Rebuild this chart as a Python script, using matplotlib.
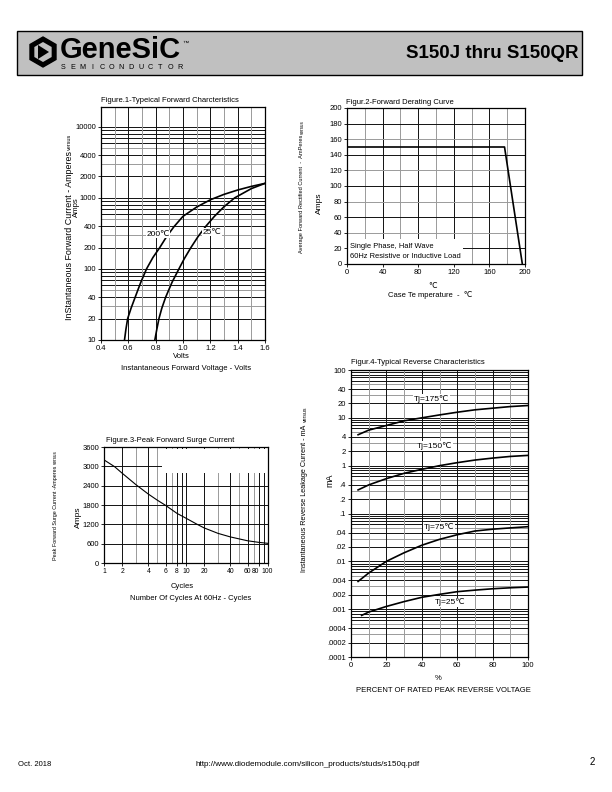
#!/usr/bin/env python3
"""
Rebuild the S150J thru S150QR datasheet page (page 2) with its four curves.
"""

import numpy as np
import matplotlib
matplotlib.use("Agg")
import matplotlib.pyplot as plt
from matplotlib.patches import Rectangle, Polygon
from matplotlib.transforms import ScaledTranslation

plt.rcParams['font.family'] = ['Liberation Sans', 'DejaVu Sans']

# Figure 1 - typical forward characteristics (volts, amps)
fwd_v_200 = [0.572, 0.582, 0.595, 0.620, 0.650, 0.690, 0.733, 0.780, 0.830, 0.880, 0.934,
             1.0, 1.1, 1.2, 1.3, 1.4, 1.5, 1.6]
fwd_i_200 = [10, 14, 20, 28, 40, 64, 100, 145, 200, 285, 393, 550, 743, 940, 1120, 1290, 1450, 1600]
fwd_v_25 = [0.794, 0.808, 0.824, 0.845, 0.873, 0.920, 0.970, 1.010, 1.058, 1.110, 1.168,
            1.230, 1.300, 1.378, 1.5, 1.6]
fwd_i_25 = [10, 14, 20, 28, 40, 65, 100, 140, 200, 285, 400, 550, 750, 1000, 1350, 1600]
fwd_yticks = [10, 20, 40, 100, 200, 400, 1000, 2000, 4000, 10000]
fwd_xticks = [0.4, 0.6, 0.8, 1.0, 1.2, 1.4, 1.6]

# Figure 2 - forward derating curve (case temp C, amps)
derate_t = [0, 177, 197]
derate_a = [150, 150, 0]
derate_xticks = [0, 40, 80, 120, 160, 200]
derate_yticks = [0, 20, 40, 60, 80, 100, 120, 140, 160, 180, 200]

# Figure 3 - peak forward surge current (cycles, amps)
surge_n = [1, 1.5, 2, 3, 4, 5, 6, 8, 10, 15, 20, 30, 40, 60, 80, 100]
surge_a = [3200, 2990, 2790, 2430, 2140, 1950, 1790, 1540, 1390, 1210, 1090, 920, 810, 690, 640, 610]
surge_xticks = [1, 2, 4, 6, 8, 10, 20, 40, 60, 80, 100]
surge_yticks = [0, 600, 1200, 1800, 2400, 3000, 3600]
# the printed cycle axis is a hand-ruled log paper: where 1..10 falls inside each decade
surge_decade_frac = [0, 0.22, 0.39, 0.54, 0.65, 0.75, 0.83, 0.89, 0.95, 1.0]

# Figure 4 - typical reverse characteristics (% of VRRM, mA)
rev_pct = [4, 10, 20, 30, 40, 50, 60, 70, 80, 90, 100]
rev_175 = [4.43, 5.53, 6.92, 8.66, 10.0, 11.5, 13.1, 14.7, 15.9, 17.2, 18.1]
rev_150 = [0.311, 0.396, 0.536, 0.692, 0.839, 1.0, 1.155, 1.31, 1.44, 1.56, 1.64]
rev_75 = [0.0038, 0.0057, 0.010, 0.0151, 0.0217, 0.0288, 0.036, 0.043, 0.047, 0.050, 0.053]
rev_pct_25 = [6, 10, 20, 30, 40, 50, 60, 70, 80, 90, 100]
rev_25 = [0.00074, 0.00087, 0.00114, 0.00144, 0.00177, 0.00204, 0.00232, 0.0025, 0.00267, 0.0028, 0.0029]
rev_yticks = [100, 40, 20, 10, 4, 2, 1, .4, .2, .1, .04, .02, .01, .004, .002, .001, .0004, .0002, .0001]
rev_ylabels = ['100', '40', '20', '10', '4', '2', '1', '.4', '.2', '.1', '.04', '.02', '.01',
               '.004', '.002', '.001', '.0004', '.0002', '.0001']

W, H = 612, 792
TICK_FS = 5.5
BLACK = '#111111'
GRAY = '#9a9a9a'


def box(left, top, right, bottom):
    return [left / W, 1 - bottom / H, (right - left) / W, (bottom - top) / H]


def style(ax):
    ax.tick_params(labelsize=TICK_FS, length=2, width=0.6, pad=1.5, colors='black')
    for s in ax.spines.values():
        s.set_linewidth(0.9)
        s.set_zorder(3)


def log_lines(ax, lo, hi, top=None):
    # horizontal decade/sub-decade rules like the printed log paper
    for e in range(lo, hi):
        for m in range(1, 10):
            v = m * 10.0 ** e
            if top is not None and v > top:
                continue
            ax.axhline(v, color=GRAY if m in (3, 5) else BLACK, lw=0.7, zorder=0.5)


# knots for the cycle axis scale (log10 value -> ruled position, in decades)
knot_log = [-3.0]
knot_pos = [-3.0]
for e in range(0, 2):
    for m, f in zip(range(1, 10), surge_decade_frac[:-1]):
        knot_log.append(e + np.log10(m))
        knot_pos.append(e + f)
knot_log += [2.0, 5.0]
knot_pos += [2.0, 5.0]


def cycles_fwd(x):
    return np.interp(np.log10(np.clip(x, 1e-3, None)), knot_log, knot_pos)


def cycles_inv(p):
    return 10.0 ** np.interp(p, knot_pos, knot_log)


fig = plt.figure(figsize=(6.12, 7.92), dpi=100)
page = fig.add_axes([0, 0, 1, 1])
page.set_xlim(0, W)
page.set_ylim(H, 0)
page.axis('off')
renderer = fig.canvas.get_renderer()


def side_label(x, y_start, y_end, main, vfs=3.8):
    # rotated y-axis title fitted between y_start and y_end, then a tiny "versus"
    t = page.text(x, y_start, main, fontsize=10, rotation=90, ha='center', va='bottom')
    length = t.get_window_extent(renderer).height
    t.set_fontsize(10 * (y_start - y_end) / length)
    page.text(x, y_end - 1.5, 'versus', fontsize=vfs, rotation=90, ha='center', va='bottom')


# header band
page.add_patch(Rectangle((17, 31), 565, 44, facecolor='#c0c0c0', edgecolor='black', lw=1.0))
cx, cy, r = 43, 52, 15
ang = np.deg2rad(np.arange(90, 450, 60))
page.add_patch(Polygon(np.c_[cx + r * np.cos(ang), cy + r * np.sin(ang)], closed=True,
                       facecolor='black', edgecolor='black'))
page.add_patch(Polygon(np.c_[cx + 10 * np.cos(ang), cy + 10 * np.sin(ang)], closed=True,
                       facecolor='#c0c0c0', edgecolor='none'))
page.add_patch(Polygon([[cx - 5, cy - 7], [cx + 6, cy], [cx - 5, cy + 7]], closed=True,
                       facecolor='black', edgecolor='none'))
page.text(60, 50, 'GeneSiC', fontsize=21, fontweight='bold', va='center', ha='left')
page.text(182, 43, '™', fontsize=4.5, va='center')
for k, ch in enumerate('SEMICONDUCTOR'):
    page.text(63 + k * 9.75, 67.5, ch, fontsize=5.2, ha='center', va='center')
page.text(578, 53, 'S150J thru S150QR', fontsize=13.5, fontweight='bold', ha='right', va='center')

# footer
page.text(18, 765, 'Oct. 2018', fontsize=5.5, va='center')
page.text(308, 765, 'http://www.diodemodule.com/silicon_products/studs/s150q.pdf',
          fontsize=5.9, ha='center', va='center')
page.text(590, 762, '2', fontsize=7, va='center')

# ---------------- Figure 1 ----------------
ax1 = fig.add_axes(box(101, 107, 265, 340))
ax1.set_yscale('log')
ax1.set_xlim(0.4, 1.6)
ax1.set_ylim(10, 19000)
log_lines(ax1, 1, 5, top=10000)
for k, x in enumerate(np.arange(0.5, 1.6, 0.1)):
    ax1.axvline(x, color=GRAY if k % 2 == 0 else BLACK, lw=0.7, zorder=0.5)
ax1.plot(fwd_v_200, fwd_i_200, color='black', lw=1.2, zorder=2)
ax1.plot(fwd_v_25, fwd_i_25, color='black', lw=1.2, zorder=2)
ax1.set_xticks(fwd_xticks)
ax1.set_xticklabels([f'{v:.1f}' for v in fwd_xticks])
ax1.set_yticks(fwd_yticks)
ax1.set_yticklabels([str(v) for v in fwd_yticks])
ax1.minorticks_off()
style(ax1)
lab = dict(facecolor='white', edgecolor='none', pad=0.5)
ax1.text(0.817, 310, '200℃', fontsize=6, ha='center', va='center', bbox=lab, zorder=4)
ax1.text(1.212, 330, '25℃', fontsize=6, ha='center', va='center', bbox=lab, zorder=4)
page.text(101, 101, 'Figure.1-Typeical Forward Charcteristics', fontsize=5.5, va='center')
side_label(69.5, 320, 152, 'InStantaneous Forward Current - Amperes', vfs=4)
page.text(76.5, 207, 'Amps', fontsize=5.6, rotation=90, ha='center', va='center')
page.text(181, 357, 'Volts', fontsize=5.5, ha='center', va='center')
page.text(186, 369, 'Instantaneous Forward Voltage - Volts', fontsize=5.5, ha='center', va='center')

# ---------------- Figure 2 ----------------
ax2 = fig.add_axes(box(347, 108, 525, 264))
ax2.set_xlim(0, 200)
ax2.set_ylim(0, 200)
for k, x in enumerate(range(20, 200, 20)):
    ax2.axvline(x, color=GRAY if k % 2 == 0 else BLACK, lw=0.7, zorder=0.5)
for k, y in enumerate(range(20, 200, 20)):
    ax2.axhline(y, color=BLACK if k % 2 == 0 else GRAY, lw=0.7, zorder=0.5)
ax2.add_patch(Rectangle((0, 0), 130, 32, facecolor='white', edgecolor='none', zorder=1))
ax2.plot(derate_t, derate_a, color='black', lw=1.2, zorder=2)
ax2.set_xticks(derate_xticks)
ax2.set_yticks(derate_yticks)
style(ax2)
ax2.text(3, 22, 'Single Phase, Half Wave', fontsize=5.4, va='center', zorder=4)
ax2.text(3, 10, '60Hz Resistive or Inductive Load', fontsize=5.4, va='center', zorder=4)
page.text(346, 103, 'Figur.2-Forward Derating Curve', fontsize=5.5, va='center')
side_label(302, 253, 135, 'Average Forward Rectified Current  -  AmPeres', vfs=3.3)
page.text(319, 203, 'Amps', fontsize=6, rotation=90, ha='center', va='center')
page.text(433, 286, '℃', fontsize=5.5, ha='center', va='center')
page.text(430, 295, 'Case Te mperature  -  ℃', fontsize=5.5, ha='center', va='center')

# ---------------- Figure 3 ----------------
ax3 = fig.add_axes(box(104, 447, 268, 563))
ax3.set_xscale('function', functions=(cycles_fwd, cycles_inv))
ax3.set_xlim(1, 100)
ax3.set_ylim(0, 3600)
for e in range(0, 2):
    for m in range(1, 10):
        x = m * 10 ** e
        if x > 1:
            ax3.axvline(x, color=GRAY if m in (3, 5, 7) else BLACK, lw=0.7, zorder=0.5)
for y in surge_yticks[1:-1]:
    ax3.axhline(y, color=BLACK, lw=0.7, zorder=0.5)
ax3.add_patch(Rectangle((5.5, 2780), 94.5, 760, facecolor='white', edgecolor='none', zorder=1))
ax3.plot(surge_n, surge_a, color='black', lw=0.8, zorder=2)
ax3.set_xticks(surge_xticks)
ax3.set_xticklabels([str(v) for v in surge_xticks])
ax3.minorticks_off()
ax3.set_yticks(surge_yticks)
style(ax3)
ax3.tick_params(axis='x', labelsize=4.9)
# the printed sheet nudges the crowded "80" and "100" labels to the left
for lbl in ax3.get_xticklabels():
    shift = {'80': -4, '100': -1}.get(lbl.get_text(), 0)
    if shift:
        lbl.set_transform(lbl.get_transform() + ScaledTranslation(shift / 100, 0, fig.dpi_scale_trans))
page.text(106, 441, 'Figure.3-Peak Forward Surge Current', fontsize=5.5, va='center')
page.text(168, 455, '8.3ms Single Half', fontsize=5.4, va='center')
page.text(168, 463.5, 'Sine Wave', fontsize=5.4, va='center')
page.text(168, 472, 'JEDEC method', fontsize=5.4, va='center')
page.text(226, 472, 'T$_\\mathregular{J}$ =25℃', fontsize=7, va='center')
side_label(55, 560, 466, 'Peak Forward Surge Current -Amperes', vfs=3.3)
page.text(78, 517, 'Amps', fontsize=6, rotation=90, ha='center', va='center')
page.text(182, 586, 'Cycles', fontsize=5.5, ha='center', va='center')
page.text(191, 598, 'Number Of Cycles At 60Hz - Cycles', fontsize=5.5, ha='center', va='center')

# ---------------- Figure 4 ----------------
ax4 = fig.add_axes(box(351, 370, 528, 657))
ax4.set_yscale('log')
ax4.set_xlim(0, 100)
ax4.set_ylim(0.0001, 100)
log_lines(ax4, -4, 2)
for x in range(10, 100, 10):
    ax4.axvline(x, color=BLACK if x % 20 == 0 else GRAY, lw=0.7, zorder=0.5)
ax4.plot(rev_pct, rev_175, color='black', lw=1.2, zorder=2)
ax4.plot(rev_pct, rev_150, color='black', lw=1.2, zorder=2)
ax4.plot(rev_pct, rev_75, color='black', lw=1.2, zorder=2)
ax4.plot(rev_pct_25, rev_25, color='black', lw=1.2, zorder=2)
ax4.set_xticks([0, 20, 40, 60, 80, 100])
ax4.set_yticks(rev_yticks)
ax4.set_yticklabels(rev_ylabels)
ax4.minorticks_off()
style(ax4)
for xpos, ypos, txt in [(45.6, 25, 'Tj=175℃'), (47.5, 2.57, 'Tj=150℃'),
                        (49.7, 0.052, 'Tj=75℃'), (56, 0.0014, 'Tj=25℃')]:
    ax4.text(xpos, ypos, txt, fontsize=6, ha='center', va='center', bbox=lab, zorder=4)
page.text(351, 362, 'Figur.4-Typical Reverse Characteristics', fontsize=5.5, va='center')
side_label(305, 572, 423, 'Instantaneous Reverse Leakage Current - mA', vfs=3.8)
page.text(330, 480, 'mA', fontsize=6.5, rotation=90, ha='center', va='center')
page.text(438, 678, '%', fontsize=5.5, ha='center', va='center')
page.text(443, 691, 'PERCENT OF RATED PEAK REVERSE VOLTAGE', fontsize=5.5, ha='center', va='center')

fig.savefig('out.png', dpi=100, facecolor='white')
